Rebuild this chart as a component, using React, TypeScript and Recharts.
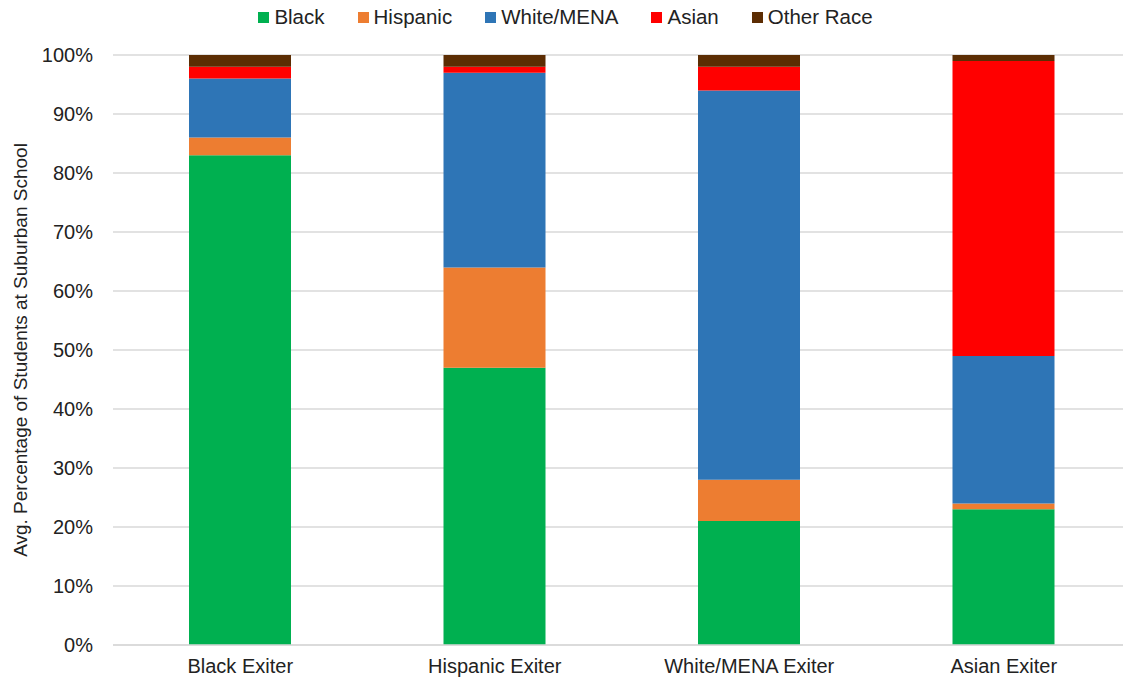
import { BarChart, Bar, XAxis, YAxis, CartesianGrid, Legend, Label } from "recharts"

// categories and series (percent of students)
const groups = ["Black Exiter", "Hispanic Exiter", "White/MENA Exiter", "Asian Exiter"]
const black = [83, 47, 21, 23]
const hispanic = [3, 17, 7, 1]
const whiteMena = [10, 33, 66, 25]
const asian = [2, 1, 4, 50]
const otherRace = [2, 2, 2, 1]
const yTicks = [0, 10, 20, 30, 40, 50, 60, 70, 80, 90, 100]

const series = [
  { key: "Black", values: black, color: "#00B050" },
  { key: "Hispanic", values: hispanic, color: "#ED7D31" },
  { key: "White/MENA", values: whiteMena, color: "#2E75B6" },
  { key: "Asian", values: asian, color: "#FF0000" },
  { key: "Other Race", values: otherRace, color: "#5C2D03" }
]

const data = groups.map((g, i) => {
  const row: any = { group: g }
  series.forEach(s => { row[s.key] = s.values[i] })
  return row
})

const font = "'Liberation Sans', Arial, sans-serif"

// legend kept in series order (recharts sorts by name otherwise)
function LegendRow() {
  return (
    <div style={{ display: "flex", justifyContent: "center", gap: 33, fontSize: 20.5, color: "#222", fontFamily: font }}>
      {series.map(s => (
        <div key={s.key} style={{ display: "flex", alignItems: "center" }}>
          <span style={{ display: "inline-block", width: 11, height: 11, background: s.color, marginRight: 5 }} />
          <span>{s.key}</span>
        </div>
      ))}
    </div>
  )
}

export default function App() {
  return (
    <div style={{ position: "absolute", left: 0, top: 0, width: 1123, height: 685, overflow: "hidden", background: "#fff", fontFamily: font }}>
      <BarChart
        width={1140}
        height={685}
        data={data}
        margin={{ top: 25, right: 9, bottom: 0, left: 0 }}
        barSize={102}
      >
        <CartesianGrid vertical={false} stroke="#d9d9d9" strokeWidth={1.5} />
        <XAxis
          dataKey="group"
          height={40}
          axisLine={{ stroke: "#d9d9d9", strokeWidth: 1.5 }}
          tickLine={false}
          tickSize={0}
          tickMargin={14}
          tick={{ fill: "#222", fontSize: 20, fontFamily: font }}
        />
        <YAxis
          width={113}
          domain={[0, 100]}
          ticks={yTicks}
          tickFormatter={v => `${v}%`}
          axisLine={false}
          tickLine={false}
          tickSize={0}
          tickMargin={20}
          tick={{ fill: "#222", fontSize: 20, fontFamily: font }}
        >
          <Label
            value="Avg. Percentage of Students at Suburban School"
            angle={-90}
            position="insideLeft"
            offset={20}
            style={{ textAnchor: "middle", fill: "#222", fontSize: 19, fontFamily: font }}
          />
        </YAxis>
        <Legend
          verticalAlign="top"
          align="center"
          height={30}
          content={() => <LegendRow />}
          wrapperStyle={{ top: 5, left: 0, width: 1131 }}
        />
        {series.map(s => (
          <Bar key={s.key} dataKey={s.key} stackId="a" fill={s.color} isAnimationActive={false} />
        ))}
      </BarChart>
    </div>
  )
}
